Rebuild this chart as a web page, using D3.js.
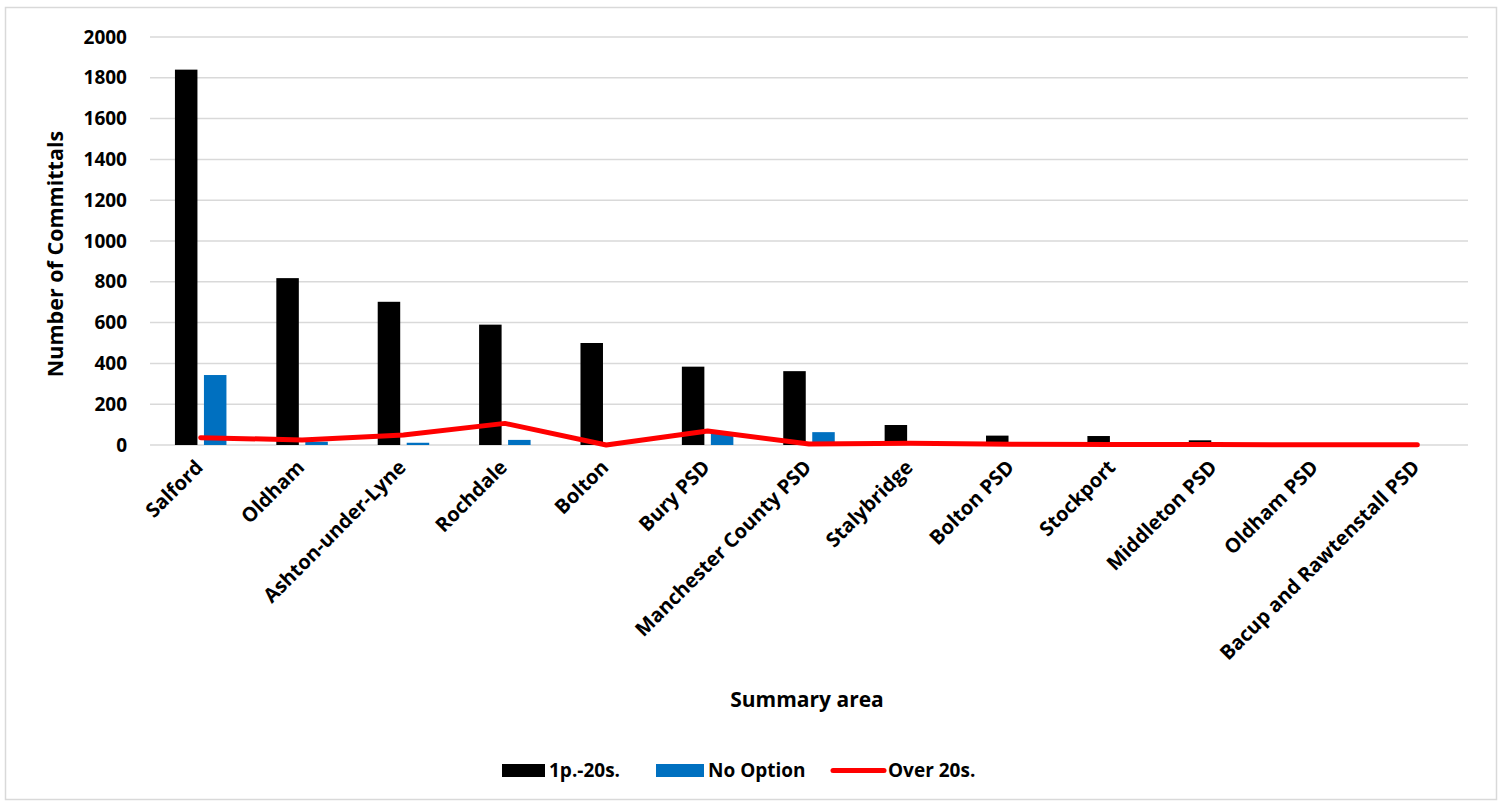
<!DOCTYPE html>
<html>
<head>
<meta charset="utf-8">
<script src="https://cdn.jsdelivr.net/npm/d3@7"></script>
<style>
  html, body { margin: 0; padding: 0; background: #fff; }
  svg { display: block; }
  text { font-family: "Open Sans", "Lato", sans-serif; font-weight: 700; fill: #000; }
</style>
</head>
<body>
<script>
// Committals by summary area, split by fine band
const categories = ["Salford", "Oldham", "Ashton-under-Lyne", "Rochdale", "Bolton", "Bury PSD",
  "Manchester County PSD", "Stalybridge", "Bolton PSD", "Stockport", "Middleton PSD",
  "Oldham PSD", "Bacup and Rawtenstall PSD"];
const upTo20s = [1840, 818, 702, 590, 500, 384, 362, 98, 46, 44, 23, 0, 0];
const noOption = [343, 16, 11, 25, 0, 58, 63, 0, 0, 0, 0, 0, 0];
const over20s = [36, 25, 49, 106, 0, 69, 5, 9, 4, 3, 2, 1, 1];
const yTicks = [0, 200, 400, 600, 800, 1000, 1200, 1400, 1600, 1800, 2000];
const seriesNames = ["1p.-20s.", "No Option", "Over 20s."];

const W = 1504, H = 803;
const plot = { left: 150, right: 1468, top: 37, bottom: 445 };
const FONT = "'Open Sans', Lato, sans-serif";

const svg = d3.select("body").append("svg").attr("width", W).attr("height", H);

// chart frame
svg.append("rect").attr("x", 5.5).attr("y", 7.5).attr("width", 1491).attr("height", 792)
  .attr("fill", "#fff").attr("stroke", "#d9d9d9").attr("stroke-width", 1.5);

const x = d3.scaleBand().domain(categories).range([plot.left, plot.right]).paddingInner(0).paddingOuter(0);
const y = d3.scaleLinear().domain([0, 2000]).range([plot.bottom, plot.top]);

// horizontal gridlines
svg.append("g").selectAll("line").data(yTicks).join("line")
  .attr("x1", plot.left).attr("x2", plot.right)
  .attr("y1", d => y(d)).attr("y2", d => y(d))
  .attr("stroke", "#d9d9d9").attr("stroke-width", 1.5);

// y axis labels
const yAxis = d3.axisLeft(y).tickValues(yTicks).tickFormat(d3.format("d")).tickSize(0).tickPadding(0);
const gy = svg.append("g").attr("transform", `translate(${plot.left - 23},0)`).call(yAxis);
gy.select(".domain").remove();
gy.selectAll("text").attr("font-size", 19).style("font-family", FONT).style("font-weight", 700).attr("fill", "#000");

// bars: two per category, sitting side by side with a small gap
const barW = 22.5, barGap = 6.5;
const groupW = barW * 2 + barGap;
const center = d => x(d) + x.bandwidth() / 2;

svg.append("g").selectAll("rect").data(categories).join("rect")
  .attr("x", d => center(d) - groupW / 2)
  .attr("y", (d, i) => y(upTo20s[i]))
  .attr("width", barW)
  .attr("height", (d, i) => y(0) - y(upTo20s[i]))
  .attr("fill", "#000");

svg.append("g").selectAll("rect").data(categories).join("rect")
  .attr("x", d => center(d) - groupW / 2 + barW + barGap)
  .attr("y", (d, i) => y(noOption[i]))
  .attr("width", barW)
  .attr("height", (d, i) => y(0) - y(noOption[i]))
  .attr("fill", "#0070c0");

// over 20s line
const line = d3.line().x((d, i) => center(categories[i])).y(d => y(d));
svg.append("path").datum(over20s).attr("d", line)
  .attr("fill", "none").attr("stroke", "#ff0000").attr("stroke-width", 5)
  .attr("stroke-linejoin", "round").attr("stroke-linecap", "round");

// category labels, rotated
const xAxis = d3.axisBottom(x).tickSize(0).tickPadding(0);
const gx = svg.append("g").attr("transform", `translate(0,${plot.bottom})`).call(xAxis);
gx.select(".domain").remove();
gx.selectAll("text")
  .attr("font-size", 20).style("font-family", FONT).style("font-weight", 700).attr("fill", "#000")
  .attr("text-anchor", "end")
  .attr("transform", "translate(-7,13) rotate(-45)")
  .attr("dy", "0.75em").attr("y", 0).attr("x", 0);

// axis titles
svg.append("text").attr("x", 807).attr("y", 707).attr("text-anchor", "middle")
  .attr("font-size", 21).style("font-family", FONT).text("Summary area");
svg.append("text").attr("transform", "translate(63,254) rotate(-90)").attr("text-anchor", "middle")
  .attr("font-size", 21.5).style("font-family", FONT).text("Number of Committals");

// legend
const legend = svg.append("g");
const lx = [502, 656, 833];
const lw = [43, 48, 51];
legend.append("rect").attr("x", lx[0]).attr("y", 764).attr("width", lw[0]).attr("height", 13).attr("fill", "#000");
legend.append("rect").attr("x", lx[1]).attr("y", 764).attr("width", lw[1]).attr("height", 13).attr("fill", "#0070c0");
legend.append("line").attr("x1", lx[2]).attr("x2", lx[2] + lw[2]).attr("y1", 770.5).attr("y2", 770.5)
  .attr("stroke", "#ff0000").attr("stroke-width", 5).attr("stroke-linecap", "round");
legend.selectAll("text.lg").data(seriesNames).join("text").attr("class", "lg")
  .attr("x", (d, i) => lx[i] + lw[i] + 4).attr("y", 777)
  .attr("font-size", 19).style("font-family", FONT).text(d => d);
</script>
</body>
</html>
